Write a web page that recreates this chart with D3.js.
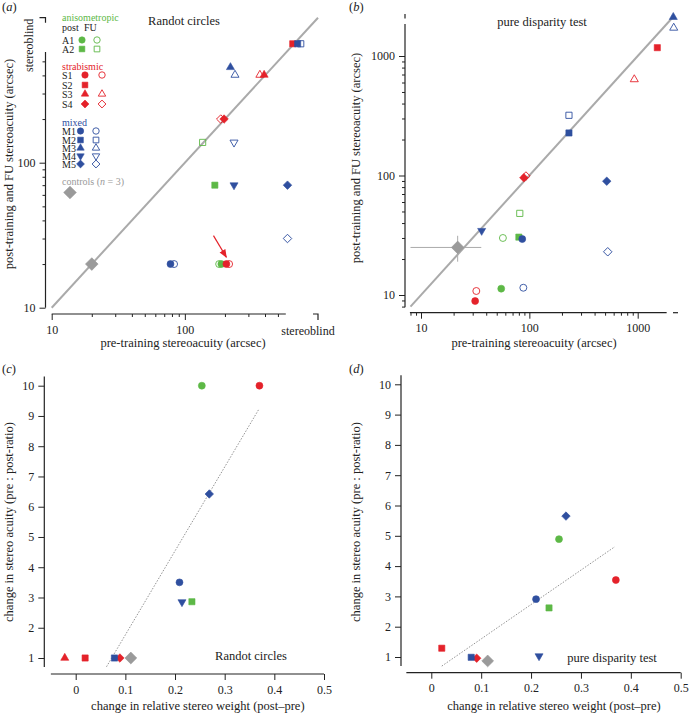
<!DOCTYPE html>
<html lang="en">
<head>
<meta charset="utf-8">
<script src="https://d3js.org/d3.v7.min.js"></script>
<style>
body { margin: 0; background: #fff; }
text { font-family: "Liberation Serif", "DejaVu Serif", serif; }
</style>
</head>
<body>
<div id="chart"></div>
<script>
// subjects, in legend order
var subjects = ["A1", "A2", "S1", "S2", "S3", "S4", "M1", "M2", "M3", "M4", "M5"];
var groups   = ["A", "A", "S", "S", "S", "S", "M", "M", "M", "M", "M"];
var shapes   = ["circle", "square", "circle", "square", "triangle", "diamond", "circle", "square", "triangle", "down", "diamond"];
var hasFU    = [true, true, true, false, true, true, true, true, true, true, true];

// (a) Randot circles, arcsec; post and FU drawn against pre
var randotPre    = [188, 168, 205, 646, 394, 197, 78, 703, 220, 234, 590];
var randotPost   = [20, 70, 20, 661, 403, 200, 20, 661, 455, 70, 70];
var randotFuPre  = [181, 136, 215, null, 366, 186, 83, 742, 238, 234, 590];
var randotFu     = [20, 138, 20, null, 403, 200, 20, 661, 403, 138, 30];
var randotControls = [20, 20];
var randotArrow = [[164, 31.4], [205, 22.3]];

// (b) pure disparity test, arcsec
var disparityPre   = [55, 80, 31.6, 1517, null, 89, 86, 232, 2130, 36.3, 518];
var disparityPost  = [11.3, 30.5, 8.9, 1174, null, 95.6, 29.4, 227, 2115, 34.5, 89.6];
var disparityFuPre = [57, 81.6, 32.4, null, 930, 93, 88, 232, 2150, null, 529];
var disparityFu    = [30, 48.2, 10.8, null, 637, 99, 11.5, 319, 1720, null, 23];
var disparityControls = [21.8, 25];
var disparityControlsX = [8, 36];
var disparityControlsY = [19, 31.3];

// (c) and (d): change in relative stereo weight vs change in acuity
var randotWeight = [0.254, 0.234, 0.37, 0.019, -0.022, 0.089, 0.209, 0.078, null, 0.214, 0.269];
var randotRatio  = [10, 2.86, 10, 1, 1, 1, 3.5, 1, null, 2.85, 6.42];
var randotCtrlChange = [0.111, 1];
var randotFit = [[0.062, 0.71], [0.368, 9.2]];
var disparityWeight = [0.256, 0.236, 0.37, 0.021, null, 0.091, 0.21, 0.08, null, 0.216, 0.27];
var disparityRatio  = [4.89, 2.62, 3.54, 1.29, null, 0.96, 2.91, 0.99, null, 1.03, 5.65];
var disparityCtrlChange = [0.113, 0.87];
var disparityFit = [[0.021, 0.70], [0.368, 4.64]];

// ticks
var logMajorA = [10, 100];
var logMinorA = [20, 30, 40, 50, 60, 70, 80, 90, 200, 300, 400, 500];
var logMajorB = [10, 100, 1000];
var logMinorB = [8, 9, 20, 30, 40, 50, 60, 70, 80, 90, 200, 300, 400, 500, 600, 700, 800, 900];
var ratioTicks = [1, 2, 3, 4, 5, 6, 7, 8, 9, 10];
var weightTicks = [0, 0.1, 0.2, 0.3, 0.4, 0.5];

var color = {A: "#5db846", S: "#e4222a", M: "#2f4f9f"};
var grey = "#9a9a9a";
var ink = "#222";

var svg = d3.select("#chart").append("svg")
  .attr("width", 689)
  .attr("height", 714);

// marker helpers
var symType = {circle: d3.symbolCircle, square: d3.symbolSquare, triangle: d3.symbolTriangle, down: d3.symbolTriangle, diamond: d3.symbolSquare};
var symSize = {circle: 38, square: 38, triangle: 28, down: 28, diamond: 36};
function symRot(s) { return s == "down" ? 180 : (s == "diamond" ? 45 : 0); }

function marker(g, shape, cx, cy, col, filled, size) {
  g.append("path")
    .attr("d", d3.symbol().type(symType[shape]).size(size || symSize[shape])())
    .attr("transform", "translate(" + cx + "," + cy + ") rotate(" + symRot(shape) + ")")
    .style("fill", filled ? col : "none")
    .style("stroke", col)
    .style("stroke-width", filled ? 0.6 : 0.9);
}

function panelLabel(x, y, letter) {
  var t = svg.append("text").attr("x", x).attr("y", y).style("font-size", "12.5px").style("fill", ink);
  t.append("tspan").text("(");
  t.append("tspan").style("font-style", "italic").text(letter);
  t.append("tspan").text(")");
}

function styleAxis(g) {
  g.select(".domain").remove();
  g.selectAll(".tick line").attr("stroke", ink);
  g.selectAll(".tick text").style("font-size", "12px").style("fill", ink);
}

function vline(x, y1, y2) {
  svg.append("line").attr("x1", x).attr("x2", x).attr("y1", y1).attr("y2", y2)
    .attr("stroke", ink).attr("stroke-width", 1.2);
}
function hline(y, x1, x2) {
  svg.append("line").attr("x1", x1).attr("x2", x2).attr("y1", y).attr("y2", y)
    .attr("stroke", ink).attr("stroke-width", 1.2);
}

function ytitle(x, y, txt) {
  svg.append("text").attr("transform", "translate(" + x + "," + y + ") rotate(-90)")
    .attr("text-anchor", "middle").style("font-size", "12.5px").style("fill", ink).text(txt);
}
function xtitle(x, y, txt) {
  svg.append("text").attr("x", x).attr("y", y)
    .attr("text-anchor", "middle").style("font-size", "12.5px").style("fill", ink).text(txt);
}

// ---------------- (a) Randot circles ----------------
var xA = d3.scaleLog().domain([10, 1000]).range([51.7, 318]);
var yA = d3.scaleLog().domain([10, 1000]).range([307.7, 17.7]);
var yAxA = 45.5, xAxA = 314;

svg.append("g").attr("transform", "translate(" + yAxA + ",0)")
  .call(d3.axisLeft(yA).tickValues(logMajorA).tickSize(6).tickPadding(4).tickFormat(d3.format("d"))).call(styleAxis);
svg.append("g").attr("transform", "translate(" + yAxA + ",0)")
  .call(d3.axisLeft(yA).tickValues(logMinorA).tickSize(3).tickFormat("")).call(styleAxis);
vline(yAxA, yA(10), yA(580));
svg.append("path").attr("d", "M" + (yAxA - 6) + "," + yA(1000) + "H" + yAxA + "V" + (yA(1000) + 5))
  .attr("fill", "none").attr("stroke", ink).attr("stroke-width", 1.2);
svg.append("text").attr("transform", "translate(33," + (yA(1000) + 1) + ") rotate(-90)")
  .attr("text-anchor", "end").style("font-size", "12px").style("fill", ink).text("stereoblind");

svg.append("g").attr("transform", "translate(0," + xAxA + ")")
  .call(d3.axisBottom(xA).tickValues(logMajorA).tickSize(6).tickPadding(5).tickFormat(d3.format("d"))).call(styleAxis);
svg.append("g").attr("transform", "translate(0," + xAxA + ")")
  .call(d3.axisBottom(xA).tickValues(logMinorA).tickSize(3).tickFormat("")).call(styleAxis);
hline(xAxA, xA(10), xA(573));
svg.append("path").attr("d", "M" + (xA(1000) - 5) + "," + xAxA + "H" + xA(1000) + "V" + (xAxA + 6))
  .attr("fill", "none").attr("stroke", ink).attr("stroke-width", 1.2);
svg.append("text").attr("x", 308).attr("y", 335).attr("text-anchor", "middle")
  .style("font-size", "12px").style("fill", ink).text("stereoblind");

// identity line
svg.append("line").attr("x1", xA(10)).attr("y1", yA(10)).attr("x2", xA(1000)).attr("y2", yA(1000))
  .attr("stroke", "#aaa").attr("stroke-width", 2);

ytitle(12.5, 164, "post-training and FU stereoacuity (arcsec)");
xtitle(183, 347, "pre-training stereoacuity (arcsec)");
svg.append("text").attr("x", 184).attr("y", 25).attr("text-anchor", "middle")
  .style("font-size", "12.5px").style("fill", ink).text("Randot circles");
panelLabel(2, 11, "a");

var gA = svg.append("g");
marker(gA, "diamond", xA(randotControls[0]), yA(randotControls[1]), grey, true, 80);
subjects.forEach(function(s, i) {
  if (randotFu[i] != null) marker(gA, shapes[i], xA(randotFuPre[i]), yA(randotFu[i]), color[groups[i]], false);
});
subjects.forEach(function(s, i) {
  if (randotPost[i] != null) marker(gA, shapes[i], xA(randotPre[i]), yA(randotPost[i]), color[groups[i]], true);
});

// red arrow
svg.append("defs").append("marker").attr("id", "arr").attr("viewBox", "0 0 10 10")
  .attr("refX", 9).attr("refY", 5).attr("markerWidth", 7).attr("markerHeight", 7).attr("orient", "auto")
  .append("path").attr("d", "M0,1 L10,5 L0,9 Z").attr("fill", color.S);
svg.append("line")
  .attr("x1", xA(randotArrow[0][0])).attr("y1", yA(randotArrow[0][1]))
  .attr("x2", xA(randotArrow[1][0])).attr("y2", yA(randotArrow[1][1]))
  .attr("stroke", color.S).attr("stroke-width", 1.2).attr("marker-end", "url(#arr)");

// legend
var leg = svg.append("g");
function legText(x, y, txt, col) {
  return leg.append("text").attr("x", x).attr("y", y).style("font-size", "10px").style("fill", col || ink).text(txt);
}
legText(62, 21, "anisometropic", color.A);
legText(62, 31, "post");
legText(84, 31, "FU");
legText(62, 69.5, "strabismic", color.S);
legText(62, 125.5, "mixed", color.M);
var legRows = {A: [40, 49], S: [75, 85, 94, 104], M: [131, 140, 148, 156, 164]};
var legCols = {A: [82, 97], S: [85, 102], M: [80.5, 96]};
// one text block per group, one line per subject
["A", "S", "M"].forEach(function(gname) {
  var block = leg.append("text").style("font-size", "10px").style("fill", ink);
  var k = 0;
  subjects.forEach(function(s, i) {
    if (groups[i] != gname) return;
    var ry = legRows[gname][k++];
    block.append("tspan").attr("x", 62).attr("y", ry + 3.5).text(s);
    marker(leg, shapes[i], legCols[gname][0], ry, color[gname], true, symSize[shapes[i]] * 0.85);
    if (hasFU[i]) marker(leg, shapes[i], legCols[gname][1], ry, color[gname], false, symSize[shapes[i]] * 0.85);
  });
});
var ct = legText(62, 185, "controls (", grey);
ct.append("tspan").style("font-style", "italic").text("n");
ct.append("tspan").text(" = 3)");
marker(leg, "diamond", 70, 192.5, grey, true, 80);

// ---------------- (b) pure disparity test ----------------
var xB = d3.scaleLog().domain([10, 1000]).range([421, 637.7]);
var yB = d3.scaleLog().domain([10, 1000]).range([295, 56]);
var yAxB = 405, xAxB = 312.7;

svg.append("g").attr("transform", "translate(" + yAxB + ",0)")
  .call(d3.axisLeft(yB).tickValues(logMajorB).tickSize(6).tickPadding(4).tickFormat(d3.format("d"))).call(styleAxis);
svg.append("g").attr("transform", "translate(" + yAxB + ",0)")
  .call(d3.axisLeft(yB).tickValues(logMinorB).tickSize(3).tickFormat("")).call(styleAxis);
vline(yAxB, yB(7.9), yB(1850));
vline(yAxB, 14, 18.5);

svg.append("g").attr("transform", "translate(0," + xAxB + ")")
  .call(d3.axisBottom(xB).tickValues(logMajorB).tickSize(6).tickPadding(5).tickFormat(d3.format("d"))).call(styleAxis);
svg.append("g").attr("transform", "translate(0," + xAxB + ")")
  .call(d3.axisBottom(xB).tickValues(logMinorB).tickSize(3).tickFormat("")).call(styleAxis);
hline(xAxB, xB(7.9), xB(1850));
hline(xAxB, 673, 678);

svg.append("line").attr("x1", xB(8)).attr("y1", yB(8)).attr("x2", xB(2100)).attr("y2", yB(2100))
  .attr("stroke", "#aaa").attr("stroke-width", 2);

ytitle(360, 158, "post-training and FU stereoacuity (arcsec)");
xtitle(534, 347, "pre-training stereoacuity (arcsec)");
svg.append("text").attr("x", 542).attr("y", 26).attr("text-anchor", "middle")
  .style("font-size", "12.5px").style("fill", ink).text("pure disparity test");
panelLabel(349, 11, "b");

var gB = svg.append("g");
// controls with error bars
gB.append("line").attr("x1", xB(disparityControlsX[0])).attr("x2", xB(disparityControlsX[1]))
  .attr("y1", yB(disparityControls[1])).attr("y2", yB(disparityControls[1]))
  .attr("stroke", "#aaa").attr("stroke-width", 1);
gB.append("line").attr("x1", xB(disparityControls[0])).attr("x2", xB(disparityControls[0]))
  .attr("y1", yB(disparityControlsY[0])).attr("y2", yB(disparityControlsY[1]))
  .attr("stroke", "#aaa").attr("stroke-width", 1);
marker(gB, "diamond", xB(disparityControls[0]), yB(disparityControls[1]), grey, true, 80);
subjects.forEach(function(s, i) {
  if (disparityFu[i] != null) marker(gB, shapes[i], xB(disparityFuPre[i]), yB(disparityFu[i]), color[groups[i]], false);
});
subjects.forEach(function(s, i) {
  if (disparityPost[i] != null) marker(gB, shapes[i], xB(disparityPre[i]), yB(disparityPost[i]), color[groups[i]], true);
});

// ---------------- (c) and (d) ----------------
function changePanel(x0, x1, yLo, yHi, yAx, xAx, weights, ratios, ctrl, fit, label, labelX, labelY, letter, lx) {
  var x = d3.scaleLinear().domain([0, 0.5]).range([x0, x1]);
  var y = d3.scaleLinear().domain([1, 10]).range([yLo, yHi]);

  svg.append("g").attr("transform", "translate(" + yAx + ",0)")
    .call(d3.axisLeft(y).tickValues(ratioTicks).tickSize(6).tickPadding(4).tickFormat(d3.format("d"))).call(styleAxis);
  vline(yAx, y(0.7), y(10.3));
  svg.append("g").attr("transform", "translate(0," + xAx + ")")
    .call(d3.axisBottom(x).tickValues(weightTicks).tickSize(6).tickPadding(5).tickFormat(function(d) { return d === 0 ? "0" : d3.format(".1f")(d); })).call(styleAxis);
  hline(xAx, x(-0.05), x(0.5));

  svg.append("line").attr("x1", x(fit[0][0])).attr("y1", y(fit[0][1]))
    .attr("x2", x(fit[1][0])).attr("y2", y(fit[1][1]))
    .attr("stroke", "#777").attr("stroke-width", 0.8).attr("stroke-dasharray", "1.5,1.5");

  var g = svg.append("g");
  marker(g, "diamond", x(ctrl[0]), y(ctrl[1]), grey, true, 70);
  subjects.forEach(function(s, i) {
    if (weights[i] != null) marker(g, shapes[i], x(weights[i]), y(ratios[i]), color[groups[i]], true);
  });

  svg.append("text").attr("x", labelX).attr("y", labelY).attr("text-anchor", "middle")
    .style("font-size", "12.5px").style("fill", ink).text(label);
  ytitle(lx + 10.5, 522, "change in stereo acuity (pre : post-ratio)");
  xtitle((x0 + x1) / 2 - 2, 710, "change in relative stereo weight (post\u2013pre)");
  panelLabel(lx, 373, letter);
}

changePanel(75.7, 324, 658, 385.7, 44.3, 674, randotWeight, randotRatio, randotCtrlChange, randotFit,
  "Randot circles", 251, 660, "c", 2);
changePanel(431.3, 680.7, 657, 384.3, 401, 672.7, disparityWeight, disparityRatio, disparityCtrlChange, disparityFit,
  "pure disparity test", 612, 662, "d", 349);
</script>
</body>
</html>
